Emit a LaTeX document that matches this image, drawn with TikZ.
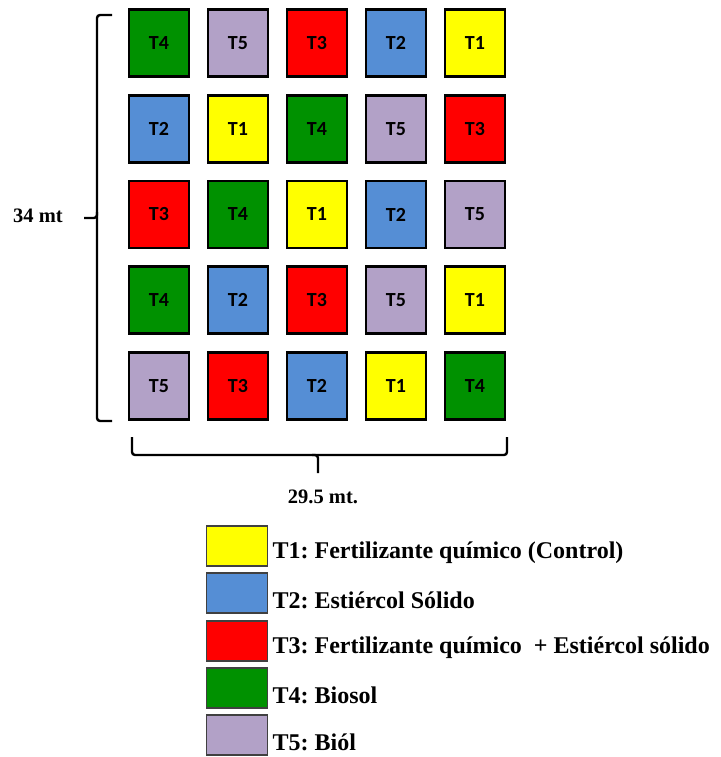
\documentclass[tikz,border=0pt]{standalone}
\usepackage{fontspec}
\setmainfont{Liberation Serif}
\newfontfamily\plotfont{Carlito}
\usetikzlibrary{positioning}
\definecolor{T1col}{HTML}{FFFF00}
\definecolor{T2col}{HTML}{558ED5}
\definecolor{T3col}{HTML}{FF0000}
\definecolor{T4col}{HTML}{009100}
\definecolor{T5col}{HTML}{B2A1C7}
\frenchspacing

\begin{document}
\begin{tikzpicture}[
  x=1pt, y=-1pt,
  plot/.style={draw=black, line width=2.6pt, minimum width=60pt, minimum height=67pt, inner sep=0pt, font=\plotfont\bfseries\fontsize{20}{24}\selectfont},
  keybox/.style={draw=black!75, line width=1.8pt, minimum width=61pt, minimum height=40pt, inner sep=0pt},
  keytext/.style={inner sep=0pt, anchor=west, font=\bfseries\fontsize{24}{28}\selectfont},
  dim/.style={font=\bfseries\fontsize{20.5}{24}\selectfont},
  brace/.style={line width=2.4pt, rounded corners=3pt},
]
\useasboundingbox (0,0) rectangle (720,757);
\foreach \row [count=\r] in {{4,5,3,2,1},{2,1,4,5,3},{3,4,1,2,5},{4,2,3,5,1},{5,3,2,1,4}}
  \foreach \t [count=\c] in \row
    \node[plot, fill=T\t col] (p\r\c) at ({159+79*(\c-1)}, {43+85.75*(\r-1)}) {T\t};
\draw[brace] (112,15) -| (97,218) -- (84,218);
\draw[brace] (97,212) |- (112,421);
\node[dim] (height) at (38,216) {34 mt};
\draw[brace] (132,437) |- (318,455) -- (318,473);
\draw[brace] (312,455) -| (507,437);
\node[dim] (width) at (323,497) {29.5 mt.};
\foreach \t/\txt in {1/{T1: Fertilizante químico (Control)},2/{T2: Estiércol Sólido},3/{T3: Fertilizante químico\ \ + Estiércol sólido},4/{T4: Biosol},5/{T5: Biól}}{
  \node[keybox, fill=T\t col] (k\t) at (237, {546+47.3*(\t-1)}) {};
  \node[keytext, right=4pt of k\t, yshift=-7pt] (l\t) {\txt};
}
\end{tikzpicture}
\end{document}
